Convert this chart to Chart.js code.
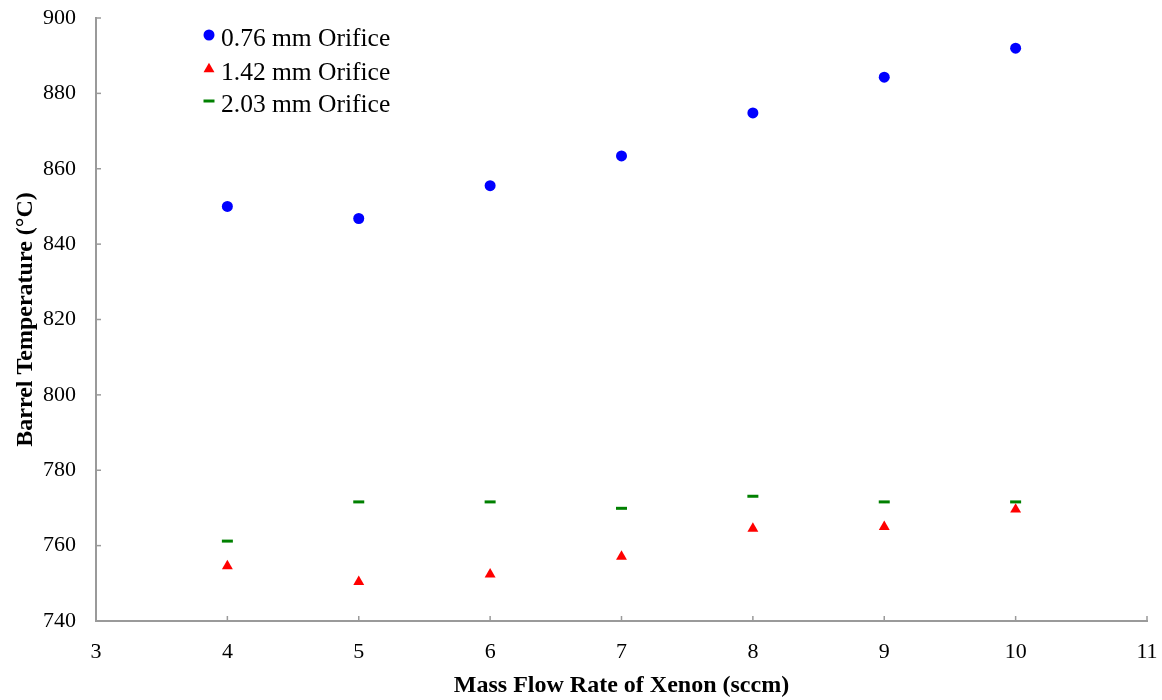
<!DOCTYPE html>
<html lang="en">
<head>
    <meta charset="UTF-8">
    <title>Barrel Temperature vs Mass Flow Rate</title>
    <style>
        body {
            margin: 0;
            background: #fff;
        }

        .chart-box {
            position: relative;
            width: 1162px;
            height: 700px;
        }
    </style>
</head>
<body>
    <div class="chart-box">
        <canvas id="tempChart"></canvas>
    </div>

    <script src="https://cdn.jsdelivr.net/npm/chart.js"></script>
    <script>
        // Data
        const massFlow = [4, 5, 6, 7, 8, 9, 10];
        const temp076 = [850.0, 846.8, 855.5, 863.4, 874.8, 884.3, 892.0];
        const temp142 = [754.6, 750.4, 752.4, 757.1, 764.5, 765.0, 769.6];
        const temp203 = [761.2, 771.6, 771.6, 769.9, 773.1, 771.6, 771.6];
        const seriesNames = ['0.76 mm Orifice', '1.42 mm Orifice', '2.03 mm Orifice'];

        const serif = "'Liberation Serif', 'Times New Roman', serif";
        const axisGray = '#9a9a9a';

        const toPoints = ys => massFlow.map((x, i) => ({ x: x, y: ys[i] }));

        // small tick marks drawn inside the plot area
        const insideTicks = {
            id: 'insideTicks',
            afterDraw(chart) {
                const { ctx, chartArea, scales } = chart;
                ctx.save();
                ctx.strokeStyle = axisGray;
                ctx.lineWidth = 1.5;
                scales.x.ticks.forEach(t => {
                    const px = scales.x.getPixelForValue(t.value);
                    ctx.beginPath();
                    ctx.moveTo(px, chartArea.bottom);
                    ctx.lineTo(px, chartArea.bottom - 5);
                    ctx.stroke();
                });
                scales.y.ticks.forEach(t => {
                    const py = scales.y.getPixelForValue(t.value);
                    ctx.beginPath();
                    ctx.moveTo(chartArea.left, py);
                    ctx.lineTo(chartArea.left + 5, py);
                    ctx.stroke();
                });
                ctx.restore();
            }
        };

        // legend sitting inside the plot, top left
        const innerLegend = {
            id: 'innerLegend',
            afterDraw(chart) {
                const ctx = chart.ctx;
                const left = chart.chartArea.left;
                const rows = [35, 69, 101];
                ctx.save();
                chart.data.datasets.forEach((ds, i) => {
                    ctx.fillStyle = ds.backgroundColor;
                    ctx.strokeStyle = ds.borderColor;
                    ctx.lineWidth = ds.borderWidth;
                    Chart.helpers.drawPoint(ctx, {
                        pointStyle: ds.pointStyle,
                        radius: ds.pointRadius,
                        rotation: 0,
                        borderWidth: ds.borderWidth
                    }, left + 113, rows[i]);
                    ctx.fillStyle = '#000';
                    ctx.font = '25.5px ' + serif;
                    ctx.textBaseline = 'middle';
                    ctx.fillText(ds.label, left + 125, rows[i] + 4);
                });
                ctx.restore();
            }
        };

        const ctx = document.getElementById('tempChart').getContext('2d');
        new Chart(ctx, {
            type: 'scatter',
            data: {
                datasets: [{
                    label: seriesNames[0],
                    data: toPoints(temp076),
                    pointStyle: 'circle',
                    pointRadius: 5.5,
                    backgroundColor: '#0000ff',
                    borderColor: '#0000ff',
                    borderWidth: 0
                }, {
                    label: seriesNames[1],
                    data: toPoints(temp142),
                    pointStyle: 'triangle',
                    pointRadius: 6.3,
                    backgroundColor: '#ff0000',
                    borderColor: '#ff0000',
                    borderWidth: 0
                }, {
                    label: seriesNames[2],
                    data: toPoints(temp203),
                    pointStyle: 'line',
                    pointRadius: 5.5,
                    backgroundColor: '#008000',
                    borderColor: '#008000',
                    borderWidth: 3
                }]
            },
            options: {
                responsive: true,
                maintainAspectRatio: false,
                animation: false,
                layout: { padding: { left: 0, right: 15, top: 18, bottom: 0 } },
                plugins: {
                    legend: { display: false },
                    tooltip: { enabled: false }
                },
                scales: {
                    x: {
                        type: 'linear',
                        min: 3,
                        max: 11,
                        ticks: { stepSize: 1, color: '#000', padding: 10, font: { family: serif, size: 22 } },
                        grid: { display: false },
                        border: { display: true, color: axisGray, width: 2 },
                        title: {
                            display: true,
                            text: 'Mass Flow Rate of Xenon (sccm)',
                            color: '#000',
                            font: { family: serif, size: 24, weight: 'bold' },
                            padding: { top: 0, bottom: 0 }
                        },
                        afterFit(scale) {
                            scale.height = 79;
                            scale.paddingLeft = 0;
                            scale.paddingRight = 0;
                        }
                    },
                    y: {
                        min: 740,
                        max: 900,
                        ticks: { stepSize: 20, color: '#000', padding: 12, font: { family: serif, size: 22 } },
                        grid: { display: false },
                        border: { display: true, color: axisGray, width: 2 },
                        title: {
                            display: true,
                            text: 'Barrel Temperature (°C)',
                            color: '#000',
                            font: { family: serif, size: 24, weight: 'bold' },
                            padding: { top: 11, bottom: 0 }
                        },
                        afterFit(scale) {
                            scale.width = 96;
                            scale.paddingTop = 0;
                            scale.paddingBottom = 0;
                        }
                    }
                }
            },
            plugins: [insideTicks, innerLegend]
        });
    </script>
</body>
</html>
